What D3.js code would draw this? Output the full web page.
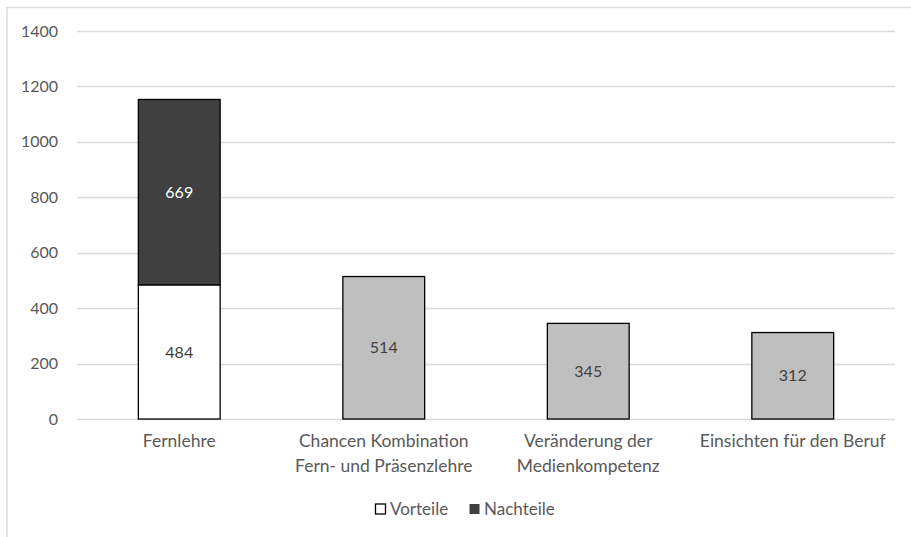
<!DOCTYPE html>
<html>
<head>
<meta charset="utf-8">
<script src="https://cdn.jsdelivr.net/npm/d3@7"></script>
<style>
  html, body { margin: 0; padding: 0; background: #fff; }
  svg { display: block; font-family: Lato, "Open Sans", sans-serif; }
</style>
</head>
<body>
<svg id="chart" width="911" height="537"></svg>
<script>
// Categories (label lines) and the two stacked series
const categories = [
  ["Fernlehre"],
  ["Chancen Kombination", "Fern- und Präsenzlehre"],
  ["Veränderung der", "Medienkompetenz"],
  ["Einsichten für den Beruf"]
];
const vorteile  = [484, null, null, null];
const nachteile = [669, null, null, null];
const gesamt    = [null, 514, 345, 312];   // single-value bars
const yTicks    = [0, 200, 400, 600, 800, 1000, 1200, 1400];
const legendItems = ["Vorteile", "Nachteile"];

const svg = d3.select("#chart");
const W = 911, H = 537;
const margin = { left: 77, right: 16, top: 31, bottom: 118 };
const plotW = W - margin.left - margin.right;
const plotH = H - margin.top - margin.bottom;

// chart frame
svg.append("rect")
  .attr("x", 7).attr("y", 7.5).attr("width", W + 10).attr("height", H + 10)
  .attr("fill", "none").attr("stroke", "#d9d9d9").attr("stroke-width", 1.3);

const g = svg.append("g").attr("transform", `translate(${margin.left},${margin.top})`);

const x = d3.scaleBand()
  .domain(d3.range(categories.length))
  .range([0, plotW])
  .paddingInner(0.6)
  .paddingOuter(0.3);

const y = d3.scaleLinear().domain([0, 1400]).range([plotH, 0]);

// gridlines
g.selectAll("line.grid").data(yTicks).join("line")
  .attr("class", "grid")
  .attr("x1", 0).attr("x2", plotW)
  .attr("y1", d => Math.round(y(d)) + 0.5).attr("y2", d => Math.round(y(d)) + 0.5)
  .attr("stroke", "#d9d9d9").attr("stroke-width", 1.3);

// y axis labels
const yAxis = d3.axisLeft(y).tickValues(yTicks).tickFormat(d3.format("d"))
  .tickSize(0).tickPadding(19);
const ya = g.append("g").call(yAxis);
ya.select(".domain").remove();
ya.selectAll("text").attr("fill", "#595959").style("font-size", "16px")
  .style("font-family", "Lato, sans-serif");

const colors = { vorteile: "#ffffff", nachteile: "#404040", gesamt: "#bfbfbf" };

// stacked Fernlehre bar plus single bars
const segs = [];
categories.forEach((c, i) => {
  if (vorteile[i] != null) {
    segs.push({ i, y0: 0, y1: vorteile[i], val: vorteile[i], fill: colors.vorteile, text: "#404040" });
    segs.push({ i, y0: vorteile[i], y1: vorteile[i] + nachteile[i], val: nachteile[i], fill: colors.nachteile, text: "#ffffff" });
  }
  if (gesamt[i] != null) segs.push({ i, y0: 0, y1: gesamt[i], val: gesamt[i], fill: colors.gesamt, text: "#404040" });
});

g.selectAll("rect.bar").data(segs).join("rect")
  .attr("class", "bar")
  .attr("x", d => x(d.i))
  .attr("width", x.bandwidth())
  .attr("y", d => y(d.y1))
  .attr("height", d => y(d.y0) - y(d.y1))
  .attr("fill", d => d.fill)
  .attr("stroke", "#000").attr("stroke-width", 1.3);

g.selectAll("text.val").data(segs).join("text")
  .attr("class", "val")
  .attr("x", d => x(d.i) + x.bandwidth() / 2)
  .attr("y", d => (y(d.y0) + y(d.y1)) / 2)
  .attr("dy", "0.35em")
  .attr("text-anchor", "middle")
  .attr("fill", d => d.text)
  .style("font-size", "16px")
  .text(d => d.val);

// category labels
const cat = g.selectAll("text.cat").data(categories).join("text")
  .attr("class", "cat")
  .attr("text-anchor", "middle")
  .attr("fill", "#595959")
  .style("font-size", "17.5px")
  .attr("transform", (d, i) => `translate(${x(i) + x.bandwidth() / 2},${plotH + 28})`);
cat.selectAll("tspan").data(d => d).join("tspan")
  .attr("x", 0).attr("dy", (d, j) => j === 0 ? 0 : 25)
  .text(d => d);

// legend
const legend = svg.append("g").attr("transform", "translate(375,509)");
const legendFill = [colors.vorteile, colors.nachteile];
const legendX = [0, 94];
legendItems.forEach((name, k) => {
  const lg = legend.append("g").attr("transform", `translate(${legendX[k]},0)`);
  lg.append("rect")
    .attr("x", 0.5).attr("y", -5).attr("width", 10).attr("height", 10)
    .attr("fill", legendFill[k])
    .attr("stroke", k === 0 ? "#000" : "none").attr("stroke-width", 1.3);
  lg.append("text")
    .attr("x", 15).attr("y", 0).attr("dy", "0.35em")
    .attr("fill", "#595959").style("font-size", "17px")
    .text(name);
});
</script>
</body>
</html>
